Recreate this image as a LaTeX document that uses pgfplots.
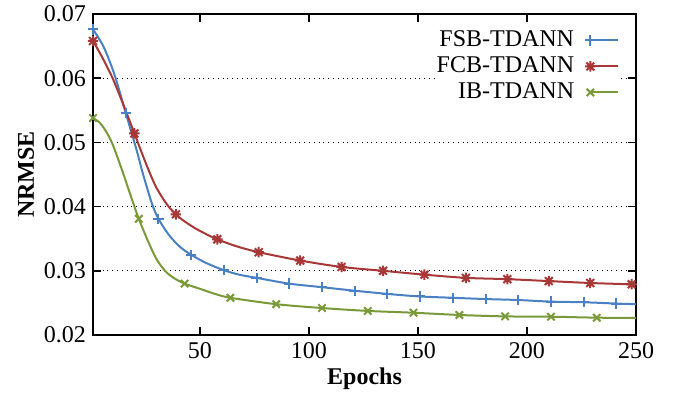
\documentclass[border=0pt]{standalone}
\usepackage{fontspec}
\setmainfont{Liberation Serif}
\usepackage{pgfplots}
\pgfplotsset{compat=1.18}
\definecolor{cblue}{RGB}{74,128,196}
\definecolor{cred}{RGB}{168,56,56}
\definecolor{cgreen}{RGB}{122,154,58}
\pgfdeclareplotmark{gpstar}{%
 \pgfpathmoveto{\pgfqpoint{-\pgfplotmarksize}{0pt}}%
 \pgfpathlineto{\pgfqpoint{\pgfplotmarksize}{0pt}}%
 \pgfpathmoveto{\pgfqpoint{0pt}{-\pgfplotmarksize}}%
 \pgfpathlineto{\pgfqpoint{0pt}{\pgfplotmarksize}}%
 \pgfpathmoveto{\pgfqpoint{-0.75\pgfplotmarksize}{-0.75\pgfplotmarksize}}%
 \pgfpathlineto{\pgfqpoint{0.75\pgfplotmarksize}{0.75\pgfplotmarksize}}%
 \pgfpathmoveto{\pgfqpoint{-0.75\pgfplotmarksize}{0.75\pgfplotmarksize}}%
 \pgfpathlineto{\pgfqpoint{0.75\pgfplotmarksize}{-0.75\pgfplotmarksize}}%
 \pgfusepathqstroke}
\begin{document}
\begin{tikzpicture}
\useasboundingbox (-46.5pt,-28.5pt) rectangle (297.5pt,167.5pt);
\begin{axis}[
 at={(0pt,0pt)}, anchor=south west,
 scale only axis, width=271.5pt, height=160.5pt,
 xmin=1, xmax=250, ymin=0.02, ymax=0.07,
 xtick={50,100,150,200,250},
 ytick={0.02,0.03,0.04,0.05,0.06,0.07},
 ymajorgrids, grid style={dotted, black, line width=0.5pt},
 tick align=inside, major tick length=4pt,
 tick style={black, line width=0.8pt},
 axis line style={line width=0.8pt},
 yticklabel style={/pgf/number format/fixed, /pgf/number format/fixed zerofill, /pgf/number format/precision=2},
 scaled y ticks=false,
 /pgf/number format/assume math mode=true,
 tick label style={font=\fontsize{12}{14}\selectfont},
 label style={font=\fontsize{12}{14}\selectfont\bfseries},
 xlabel={Epochs}, ylabel={NRMSE},
 xlabel style={yshift=2pt},
 ylabel style={yshift=-2pt},
 legend style={draw=none, fill=white, at={(263pt,154pt)}, anchor=north east, font=\fontsize{12}{14}\selectfont, row sep=0pt, column sep=5pt, inner sep=0pt,
   nodes={text height=9pt, text depth=3pt, inner sep=0.5pt}},
 legend cell align=right,
 legend plot pos=right,
 legend image code/.code={\draw[mark repeat=2,mark phase=2] plot coordinates {(0cm,0cm) (0.24cm,0cm) (0.48cm,0cm)};},
 every axis plot/.append style={line width=1pt, smooth, mark size=2.6pt, mark options={solid, line width=1pt}},
]
\addplot[cblue, mark=+, mark indices={1,4,8,11,13,15,16,17,18,19,20,21,22,23,24,25,26}] coordinates {
(1,0.0676)(6,0.0648)(11,0.0604)(16,0.0546)(21,0.0488)(24,0.0450)(28,0.0405)(31,0.0381)(36,0.0355)(41,0.0337)(46,0.0325)(53,0.0312)(61,0.0301)(68,0.0294)(76,0.0289)(91,0.0280)(106,0.02745)(121,0.0269)(136,0.0264)(151,0.0260)(166,0.0258)(181,0.0256)(196,0.02545)(211,0.0252)(226,0.0251)(241,0.0249)(250,0.0248)};
\addlegendentry{FSB-TDANN}
\addplot[cred, mark=gpstar, mark indices={1,5,10,14,16,17,18,19,20,21,22,23,24,25}] coordinates {
(1,0.0658)(5,0.0634)(10,0.0600)(15,0.0558)(20,0.0514)(23,0.0487)(26,0.0461)(30,0.0430)(35,0.0403)(39,0.0388)(43,0.0377)(48,0.0366)(53,0.0357)(58,0.0349)(67,0.0338)(77,0.0329)(96,0.0316)(115,0.0306)(134,0.0300)(153,0.0294)(172,0.0289)(191,0.0287)(210,0.0284)(229,0.0281)(248,0.0279)(250,0.0279)};
\addlegendentry{FCB-TDANN}
\addplot[cgreen, mark=x, mark indices={1,8,13,16,17,18,19,20,21,22,23,24}] coordinates {
(1,0.0538)(4,0.0531)(7,0.0517)(10,0.0497)(14,0.0460)(16,0.0440)(19.5,0.0405)(22,0.0381)(26,0.0348)(30,0.0319)(34,0.0300)(38,0.0289)(43,0.0280)(50,0.0272)(57,0.0264)(64,0.0258)(85,0.0248)(106,0.0242)(127,0.02375)(148,0.02347)(169,0.02312)(190,0.0229)(211,0.02285)(232,0.0227)(250,0.02265)};
\addlegendentry{IB-TDANN}
\end{axis}
\end{tikzpicture}
\end{document}
